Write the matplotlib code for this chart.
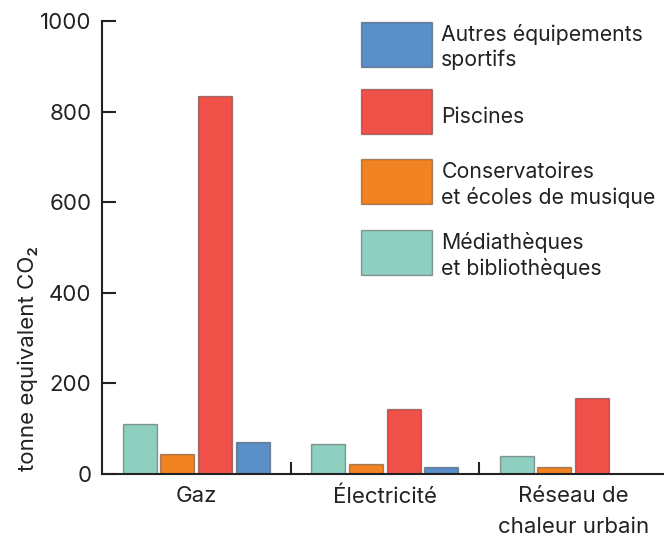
import numpy as np
import matplotlib
matplotlib.use('Agg')
import matplotlib.pyplot as plt
from matplotlib.transforms import ScaledTranslation

plt.rcParams['font.family'] = ['Inter', 'DejaVu Sans']

# Data
categories = ['Gaz', 'Électricité', 'Réseau de\nchaleur urbain']
series = ['Médiathèques\net bibliothèques',
          'Conservatoires\net écoles de musique',
          'Piscines',
          'Autres équipements\nsportifs']
values = {
    'Médiathèques\net bibliothèques': [110, 65, 38],
    'Conservatoires\net écoles de musique': [43, 21, 14],
    'Piscines': [834, 144, 167],
    'Autres équipements\nsportifs': [70, 14, 0],
}
colors = ['#8ecfbf', '#f28322', '#f0524a', '#5b8fc7']

text_color = '#222222'
fs = 16
leg_fs = 15.3

fig = plt.figure(figsize=(6.64, 5.36), dpi=100)
ax = fig.add_axes([102 / 664, 62.3 / 536, 562 / 664, (473.7 - 21) / 536])

x = np.arange(len(categories))
width = 0.18
offsets = [-0.3, -0.1, 0.1, 0.3]
handles = []
for name, color, off in zip(series, colors, offsets):
    h = ax.bar(x + off, values[name], width, color=color,
               edgecolor=(0, 0, 0, 0.35), linewidth=1.0, label=name)
    handles.append(h)

ax.set_xlim(-0.5, 2.481)
ax.set_ylim(0, 1000)

# Axes styling
for side in ['top', 'right']:
    ax.spines[side].set_visible(False)
for side in ['left', 'bottom']:
    ax.spines[side].set_color(text_color)
    ax.spines[side].set_linewidth(1.5)

ax.set_yticks([0, 200, 400, 600, 800, 1000])
ax.tick_params(axis='y', direction='in', length=10, width=1.5,
               color=text_color, labelsize=fs, labelcolor=text_color, pad=7.5)
ax.set_xticks(x)
ax.set_xticklabels(categories)
ax.tick_params(axis='x', which='major', length=0, labelsize=fs,
               labelcolor=text_color, pad=9)
ax.set_xticks([0.5, 1.5], minor=True)
ax.tick_params(axis='x', which='minor', direction='in', length=8.5,
               width=1.5, color=text_color)
for lab in ax.get_xticklabels():
    lab.set_linespacing(1.7)

ax.set_ylabel('tonne equivalent CO₂', fontsize=fs, color=text_color)
ax.yaxis.set_label_coords(-0.114, 0.255)

# Legend, reversed order
leg = ax.legend(handles[::-1], series[::-1], loc='upper left',
                bbox_to_anchor=(361 / 664, 1 - 19.4 / 536),
                bbox_transform=fig.transFigure, frameon=False,
                fontsize=leg_fs, handlelength=3.33, handleheight=2.88,
                handletextpad=0.45, labelspacing=1.07, borderpad=0,
                borderaxespad=0)
shift = ScaledTranslation(0, -3.5 / 72, fig.dpi_scale_trans)
for t in leg.get_texts():
    t.set_color(text_color)
    t.set_linespacing(1.28)
    t.set_transform(t.get_transform() + shift)

plt.savefig('out.png', dpi=100)
